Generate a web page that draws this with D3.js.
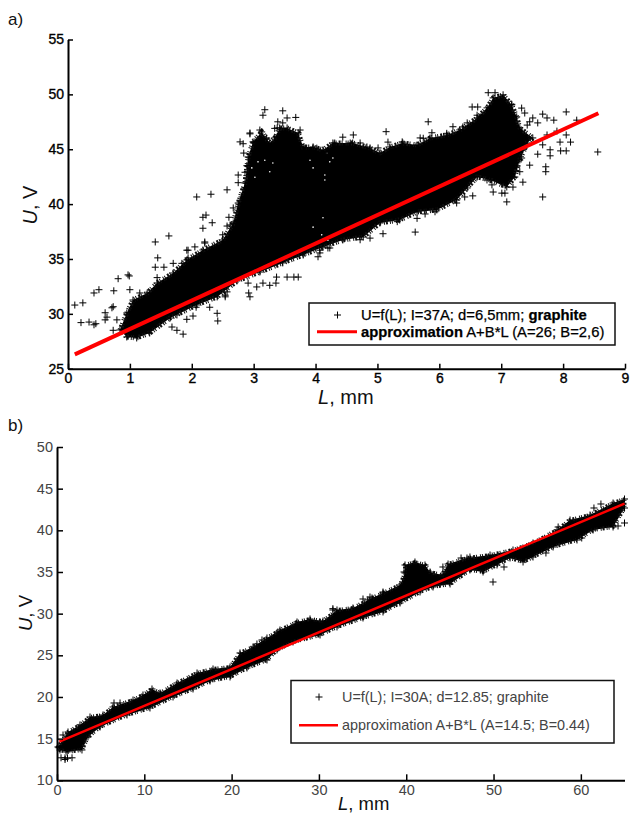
<!DOCTYPE html>
<html>
<head>
<meta charset="utf-8">
<script src="https://cdn.jsdelivr.net/npm/d3@7"></script>
<style>
  html, body { margin: 0; padding: 0; background: #fff; }
  svg { display: block; }
  text { font-family: "Liberation Sans", Arial, sans-serif; }
</style>
</head>
<body>
<svg id="chart" width="631" height="814"></svg>
<script>
// panel a) tick values
const aTicksX = [0, 1, 2, 3, 4, 5, 6, 7, 8, 9];
const aTicksY = [25, 30, 35, 40, 45, 50, 55];
// panel a) outline of the solid black part of the cloud
const aCloudL = [0.84,0.95,1.05,1.28,1.44,1.70,1.92,2.18,2.50,2.67,2.75,2.86,2.91,2.99,3.13,3.26,3.34,3.42,3.54,3.72,3.80,3.96,4.12,4.28,4.60,4.88,5.04,5.20,5.41,5.64,5.85,6.12,6.33,6.61,6.77,6.87,7.03,7.17,7.25,7.30,7.51,7.42,7.30,7.22,7.09,6.82,6.61,6.45,6.28,5.96,5.64,5.36,5.04,4.77,4.44,4.12,3.80,3.47,3.10,2.73,2.41,2.08,1.65,1.32,1.11,0.95];
const aCloudU = [28.53,30.08,31.26,31.90,32.81,33.72,34.91,35.82,36.73,38.28,40.10,41.93,44.30,45.67,46.58,45.57,46.03,46.94,46.94,46.49,45.21,45.21,44.94,45.57,45.57,45.12,44.66,45.21,45.57,45.39,46.03,46.30,46.76,47.85,48.77,49.68,49.96,49.04,47.95,46.94,46.03,45.57,44.02,42.47,41.56,42.20,42.47,41.47,40.38,39.47,39.28,38.55,38.28,37.00,36.73,36.09,35.36,34.64,33.81,33.00,31.54,30.81,29.62,28.25,27.80,27.89];
// panel a) single + marks outside the solid part
const aPointL = [2.08,2.31,2.57,2.75,2.75,2.94,2.78,2.83,2.84,2.89,3.18,3.15,3.47,3.68,3.39,3.54,3.47,3.34,3.75,3.10,2.18,2.23,2.33,2.18,2.60,2.57,2.67,1.63,1.41,1.45,1.41,1.55,0.97,0.99,0.81,0.50,0.42,0.74,0.24,0.11,0.21,0.34,0.42,0.45,0.60,0.63,0.60,0.71,0.73,1.00,1.16,0.79,0.73,1.86,1.68,1.76,1.92,2.02,1.76,2.07,2.29,2.41,2.42,2.54,1.92,2.05,1.94,2.21,1.70,1.44,3.54,3.65,3.72,3.37,3.36,3.26,3.15,3.05,2.91,2.92,2.94,2.57,2.54,4.04,4.07,4.23,8.56,8.05,7.85,7.67,7.74,7.51,7.38,8.22,7.90,7.59,7.42,8.05,8.12,8.05,7.96,7.79,7.79,7.59,7.46,7.72,7.72,7.30,7.35,7.67,7.19,7.09,7.06,6.87,7.01,7.95,7.67,5.82,5.14,4.61,4.44,5.88,6.22,6.45,6.53,6.62,6.79,6.90,6.61,7.17,7.33,5.17,5.74,6.12,5.61,5.09,5.64,5.32,4.88,4.72,4.20,4.07,6.54,6.41,6.28,5.93,5.77,
  4.31,4.56,4.72,4.83,5.01,5.40,5.69,6.38,6.66,2.94,3.02,3.21,3.38,3.38,3.83,4.02,4.18,2.86,2.86,2.81,2.62,2.50,2.21,1.94,1.84,6.77,6.93,7.14,7.01,6.85,7.46,7.30,7.74,7.35,7.33,7.25];
const aPointU = [40.65,40.90,41.30,42.65,41.95,46.40,45.67,45.50,44.65,43.50,48.60,48.10,48.50,47.90,47.50,47.85,47.40,46.90,46.75,46.75,38.80,39.00,38.30,37.80,38.80,38.00,39.65,37.10,36.55,35.10,34.25,34.25,33.55,33.45,33.20,32.20,31.90,32.10,31.00,30.80,29.20,29.25,29.00,29.10,30.10,29.70,29.45,30.55,30.65,32.20,31.90,29.45,28.50,28.15,28.80,28.50,29.50,29.80,29.90,30.60,30.60,30.05,29.35,31.70,35.80,36.10,35.10,36.55,34.60,33.30,33.35,33.35,33.35,33.35,32.80,32.60,32.80,32.45,32.80,31.90,31.55,32.00,31.55,35.20,35.80,36.00,44.75,48.40,47.65,48.20,47.85,47.85,48.30,47.65,46.65,47.40,47.20,46.30,45.65,44.85,44.85,44.95,44.40,44.55,43.55,43.40,42.95,42.95,42.00,40.65,41.55,40.20,41.00,41.10,41.00,45.65,45.40,47.50,46.60,46.30,46.10,46.50,47.05,47.40,48.85,48.85,50.15,50.15,48.10,49.10,48.75,45.65,46.00,46.45,37.45,37.30,38.70,38.40,36.90,36.75,36.00,35.55,40.75,40.65,40.10,39.30,39.10,
  45.57,45.57,45.57,45.21,45.12,45.67,46.03,47.03,47.95,46.48,45.67,46.03,46.94,46.12,45.10,45.10,44.75,42.90,41.47,40.65,38.10,37.20,36.45,35.80,34.60,42.20,42.20,42.47,41.93,41.75,47.50,46.76,46.30,44.95,44.20,43.40];
// panel a) white specks where the marks leave the paper showing
const aGapL = [2.97,3.07,3.18,3.26,3.31,3.02,3.91,3.96,4.18,4.23,4.28,4.15,4.15,4.12,3.96,4.10,4.20];
const aGapU = [43.30,43.85,44.00,42.95,43.75,42.45,44.00,43.30,44.65,43.85,44.20,42.65,42.20,38.75,37.90,37.20,36.70];
// panel a) approximation line ends
const aFitL = [0.11, 8.57];
const aFitU = [26.3, 48.28];

// panel b) tick values
const bTicksX = [0, 10, 20, 30, 40, 50, 60];
const bTicksY = [10, 15, 20, 25, 30, 35, 40, 45, 50];
const bCloudL = [0.11,1.26,2.63,3.78,5.27,6.41,8.71,9.85,10.88,11.80,13.75,16.04,17.87,19.82,20.96,22.45,24.05,25.54,27.49,28.98,30.47,32.07,33.90,36.08,37.34,39.29,39.86,39.86,41.00,42.15,42.73,44.10,44.79,46.96,49.60,52.23,54.52,57.27,58.76,61.05,63.69,65,65,63.69,61.40,59.56,56.82,54.52,53.38,51.89,50.40,48.80,47.30,45.02,43.07,41.58,39.29,37.34,35.05,32.07,30.13,27.03,25.20,24.05,21.76,19.82,17.53,15.58,13.29,10.65,8.02,4.93,3.55,2.86,1.15,0.34];
const bCloudU = [14.00,15.80,16.64,17.60,17.84,18.80,19.64,20.24,20.96,20.48,21.68,22.88,23.36,23.60,25.28,26.00,27.08,28.04,29.00,29.36,29.12,30.44,30.68,31.88,32.48,33.44,34.88,35.84,36.20,35.84,35.00,34.64,35.96,36.68,37.04,37.64,38.48,40.04,41.24,41.84,43.28,43.76,42.68,40.40,40.04,38.84,38.00,36.80,36.20,36.68,35.84,35.00,35.24,33.56,33.20,32.60,31.28,30.20,29.48,28.40,27.44,26.60,25.64,24.44,23.48,22.40,21.92,20.96,20.00,18.68,17.84,16.40,15.20,13.64,13.40,13.64];
const bPointL = [0.46,0.92,1.72,0.92,1.20,0.69,6.53,7.22,0.23,22.90,23.48,25.30,31.60,35.05,35.60,39.75,44.20,46.28,47.30,51.20,49.94,56.00,57.40,60.10,61.50,62.30,64.26,65.00,35.85,35.85,37.34,31.60];
const bPointU = [12.70,12.70,12.70,12.50,12.65,15.44,19.28,19.28,13.90,26.36,26.84,27.80,30.60,31.76,31.64,35.00,35.60,36.68,36.80,35.60,33.80,37.28,40.40,39.08,42.68,43.16,40.52,40.88,32.00,31.28,32.60,30.44];
const bGapL = [];
const bGapU = [];
const bFitL = [0.27, 65];
const bFitU = [14.63, 43.2];

const svg = d3.select('#chart');

function drawPanel(cfg) {
  const xScale = d3.scaleLinear().domain(cfg.xDomain).range(cfg.xRange);
  const yScale = d3.scaleLinear().domain(cfg.yDomain).range(cfg.yRange);
  const g = svg.append('g');

  const xAxis = d3.axisBottom(xScale).tickValues(cfg.ticksX).tickSizeInner(-cfg.tick).tickSizeOuter(0).tickPadding(cfg.pad);
  const yAxis = d3.axisLeft(yScale).tickValues(cfg.ticksY).tickSizeInner(-cfg.tick).tickSizeOuter(0).tickPadding(cfg.pad);

  const cloud = d3.line()
      .x(i => xScale(cfg.cloudL[i]))
      .y(i => yScale(cfg.cloudU[i]))
      .curve(d3.curveLinearClosed);
  const idx = d3.range(cfg.cloudL.length);

  g.append('path')
      .attr('d', cloud(idx))
      .attr('fill', '#000');
  // comb-like stroke so the edge looks like the ends of the + marks
  g.append('path')
      .attr('d', cloud(idx))
      .attr('fill', 'none')
      .attr('stroke', '#111')
      .attr('stroke-width', cfg.comb)
      .attr('stroke-dasharray', '1 2 2 1 1 3 1 1');

  g.selectAll('.gap')
      .data(cfg.gapL)
    .join('circle')
      .attr('class', 'gap')
      .attr('cx', d => xScale(d))
      .attr('cy', (d, i) => yScale(cfg.gapU[i]))
      .attr('r', 0.8)
      .attr('fill', '#fff');

  const plus = `M${-cfg.mark},0H${cfg.mark}M0,${-cfg.mark}V${cfg.mark}`;
  const marks = idx.map(i => [cfg.cloudL[i], cfg.cloudU[i]])
      .concat(cfg.pointL.map((d, i) => [d, cfg.pointU[i]]));
  g.selectAll('.pt')
      .data(marks)
    .join('path')
      .attr('class', 'pt')
      .attr('d', plus)
      .attr('transform', d => `translate(${xScale(d[0])},${yScale(d[1])})`)
      .attr('fill', 'none')
      .attr('stroke', '#000')
      .attr('stroke-width', 1);

  g.append('path')
      .attr('d', d3.line().x(d => xScale(d[0])).y(d => yScale(d[1]))(cfg.fitL.map((d, i) => [d, cfg.fitU[i]])))
      .attr('fill', 'none')
      .attr('stroke', '#f00')
      .attr('stroke-width', cfg.fitWidth);

  const xG = g.append('g').attr('transform', `translate(0,${cfg.yRange[0]})`).call(xAxis);
  const yG = g.append('g').attr('transform', `translate(${cfg.xRange[0]},0)`).call(yAxis);
  [xG, yG].forEach(a => {
    a.select('.domain').attr('stroke', '#000').attr('stroke-width', 2);
    a.selectAll('.tick line').attr('stroke', '#000').attr('stroke-width', 1.5);
    a.selectAll('text')
        .attr('font-family', '"Liberation Sans", Arial, sans-serif')
        .attr('font-size', cfg.tickFont)
        .attr('fill', cfg.tickColor)
        .attr('stroke', cfg.tickStroke)
        .attr('stroke-width', 0.35);
  });

  // axis titles
  const xt = g.append('text').attr('x', cfg.xLabel[0]).attr('y', cfg.xLabel[1]).attr('font-size', cfg.titleFont).attr('fill', '#111');
  xt.append('tspan').attr('font-style', 'italic').text('L');
  xt.append('tspan').text(', mm');
  const yt = g.append('text')
      .attr('transform', `translate(${cfg.yLabel[0]},${cfg.yLabel[1]}) rotate(-90)`)
      .attr('text-anchor', 'middle')
      .attr('font-size', cfg.titleFont)
      .attr('fill', '#111');
  yt.append('tspan').attr('font-style', 'italic').text('U');
  yt.append('tspan').text(', V');

  g.append('text').attr('x', 8).attr('y', cfg.tagY).attr('font-size', 17).attr('fill', '#111').text(cfg.tag);

  // legend
  const lg = cfg.legend;
  g.append('rect')
      .attr('x', lg.x).attr('y', lg.y).attr('width', lg.w).attr('height', lg.h)
      .attr('fill', '#fff').attr('stroke', '#111').attr('stroke-width', 1.5);
  g.append('path')
      .attr('d', plus)
      .attr('transform', `translate(${lg.markX},${lg.row1})`)
      .attr('stroke', '#000').attr('fill', 'none');
  g.append('line')
      .attr('x1', lg.lineX[0]).attr('x2', lg.lineX[1]).attr('y1', lg.row2).attr('y2', lg.row2)
      .attr('stroke', '#f00').attr('stroke-width', lg.lineWidth);
  lg.rows.forEach((row, r) => {
    const t = g.append('text')
        .attr('x', lg.textX)
        .attr('y', (r === 0 ? lg.row1 : lg.row2) + lg.base)
        .attr('font-size', lg.font)
        .attr('fill', lg.color)
        .attr('stroke', lg.stroke)
        .attr('stroke-width', 0.25);
    row.forEach(part => {
      t.append('tspan').attr('font-weight', part[1] ? 'bold' : 'normal').text(part[0]);
    });
  });
}

drawPanel({
  tag: 'a)', tagY: 25,
  xDomain: [0, 9], xRange: [68, 625],
  yDomain: [25, 55], yRange: [368.7, 39.5],
  ticksX: aTicksX, ticksY: aTicksY,
  cloudL: aCloudL, cloudU: aCloudU, pointL: aPointL, pointU: aPointU, gapL: aGapL, gapU: aGapU,
  fitL: aFitL, fitU: aFitU, fitWidth: 4,
  tick: 5, pad: 4, tickFont: 14, tickColor: '#000', tickStroke: '#000',
  mark: 3.5, comb: 5, titleFont: 20,
  xLabel: [318, 404], yLabel: [37, 205],
  legend: {
    x: 309, y: 303, w: 306, h: 42, markX: 337.5, row1: 315, row2: 331.7,
    lineX: [317, 357], lineWidth: 3, textX: 361, base: 5, font: 14.8, color: '#000', stroke: '#000',
    rows: [[['U=f(L); I=37A; d=6,5mm; ', false], ['graphite', true]],
           [['approximation', true], [' A+B*L (A=26; B=2,6)', false]]]
  }
});

drawPanel({
  tag: 'b)', tagY: 431,
  xDomain: [0, 65], xRange: [57, 624.5],
  yDomain: [10, 50], yRange: [780.3, 447],
  ticksX: bTicksX, ticksY: bTicksY,
  cloudL: bCloudL, cloudU: bCloudU, pointL: bPointL, pointU: bPointU, gapL: bGapL, gapU: bGapU,
  fitL: bFitL, fitU: bFitU, fitWidth: 2.5,
  tick: 6, pad: 4, tickFont: 14.5, tickColor: '#444', tickStroke: 'none',
  mark: 3.5, comb: 4, titleFont: 18.5,
  xLabel: [338, 809.5], yLabel: [32, 613],
  legend: {
    x: 291, y: 680.5, w: 323, h: 62.5, markX: 319, row1: 697, row2: 725.3,
    lineX: [299, 338], lineWidth: 2.5, textX: 342, base: 5, font: 14.4, color: '#444', stroke: 'none',
    rows: [[['U=f(L); I=30A; d=12.85; graphite', false]],
           [['approximation A+B*L (A=14.5; B=0.44)', false]]]
  }
});
</script>
</body>
</html>
